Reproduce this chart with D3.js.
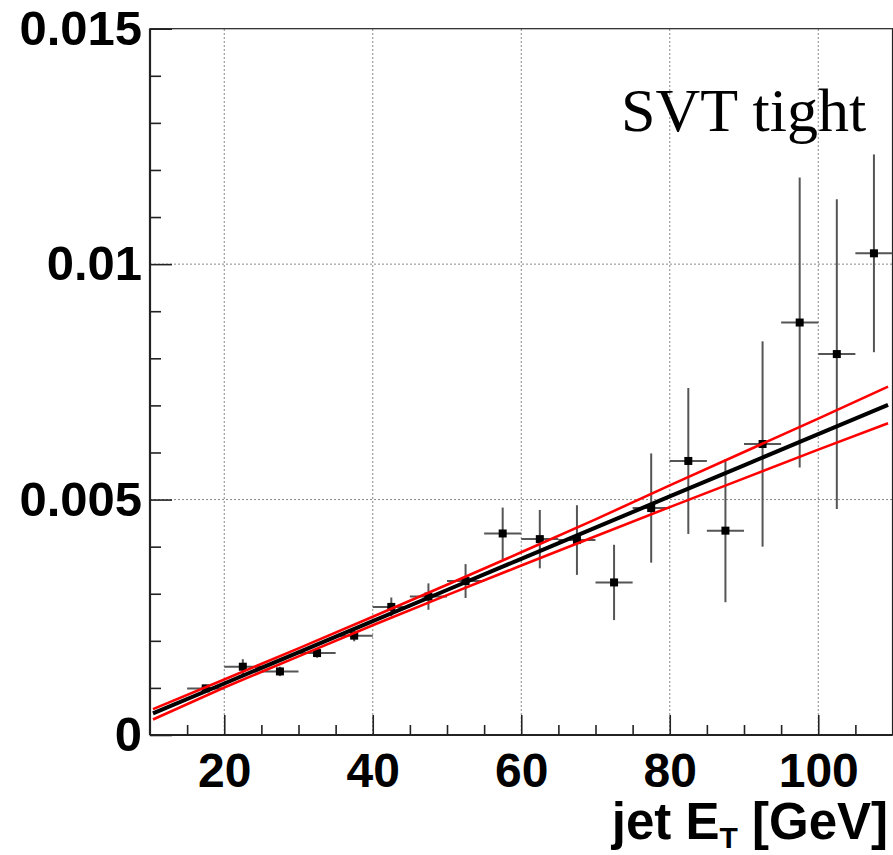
<!DOCTYPE html>
<html>
<head>
<meta charset="utf-8">
<script src="https://cdn.jsdelivr.net/npm/d3@7"></script>
<style>
  html, body { margin: 0; padding: 0; background: #fff; }
  svg { display: block; }
  .tick text { font-family: "Liberation Sans", Arial, Helvetica, sans-serif; font-weight: bold; }
</style>
</head>
<body>
<svg id="chart" width="893" height="855"></svg>
<script>
// Tag rate vs jet E_T, SVT tight
const binCenters = [17.5, 22.5, 27.5, 32.5, 37.5, 42.5, 47.5, 52.5, 57.5, 62.5,
                    67.5, 72.5, 77.5, 82.5, 87.5, 92.5, 97.5, 102.5, 107.5];
const binHalfWidth = 2.5;
const rateValues = [0.00099, 0.00145, 0.00135, 0.00174, 0.00211, 0.00272, 0.00294, 0.00327, 0.00428, 0.00416,
                    0.00414, 0.00324, 0.00482, 0.00582, 0.00434, 0.00618, 0.00876, 0.00809, 0.01023];
const rateErrors = [0.00008, 0.00016, 0.00010, 0.00010, 0.00012, 0.00020, 0.00028, 0.00036, 0.00055, 0.00062,
                    0.00074, 0.00080, 0.00116, 0.00155, 0.00152, 0.00218, 0.00308, 0.00329, 0.00210];

// Linear fit and its error band
const fitX       = [10.4, 20, 30, 40, 50, 60, 70, 80, 90, 100, 109.4];
const fitCentral = [0.000458, 0.001094, 0.001756, 0.002418, 0.00308, 0.003742, 0.004404, 0.005066, 0.005728, 0.00639, 0.007012];
const fitUpper   = [0.00055, 0.00118, 0.00184, 0.00251, 0.00319, 0.00388, 0.00458, 0.0053, 0.00601, 0.00672, 0.0074];
const fitLower   = [0.00033, 0.00101, 0.00167, 0.00233, 0.00297, 0.0036, 0.00422, 0.00484, 0.00545, 0.00606, 0.00662];

// Axis ticks
const xMajorTicks = [20, 40, 60, 80, 100];
const xMajorLabels = ["20", "40", "60", "80", "100"];
const yMajorTicks = [0, 0.005, 0.01, 0.015];
const yMajorLabels = ["0", "0.005", "0.01", "0.015"];
const xDomain = [10, 110];
const yDomain = [0, 0.015];

const svg = d3.select("#chart");
const plotL = 150, plotR = 892.5, plotT = 28.7, plotB = 735;

const x = d3.scaleLinear().domain(xDomain).range([plotL, plotR]);
const y = d3.scaleLinear().domain(yDomain).range([plotB, plotT]);

// Grid
const grid = svg.append("g").attr("stroke", "#888").attr("stroke-width", 1).attr("stroke-dasharray", "2,2");
grid.selectAll("line.vx").data(xMajorTicks).join("line")
  .attr("x1", d => x(d)).attr("x2", d => x(d)).attr("y1", plotB).attr("y2", plotT);
grid.selectAll("line.hy").data(yMajorTicks.filter(v => v > 0 && v < 0.015)).join("line")
  .attr("x1", plotL).attr("x2", plotR).attr("y1", d => y(d)).attr("y2", d => y(d));

// Frame
svg.append("rect").attr("x", plotL).attr("y", plotT).attr("width", plotR - plotL).attr("height", plotB - plotT)
  .attr("fill", "none").attr("stroke", "#222").attr("stroke-width", 1.2);

// Axes: major and minor ticks point inward
const xMinor = d3.range(15, 110, 5).filter(v => !xMajorTicks.includes(v));
const yMinor = d3.range(1, 15).map(i => i * 0.001).filter(v => !yMajorTicks.some(m => Math.abs(m - v) < 1e-9));

const xAxisMajor = svg.append("g").attr("transform", `translate(0,${plotB})`)
  .call(d3.axisBottom(x).tickValues(xMajorTicks).tickSize(-20).tickPadding(18)
    .tickFormat((d, i) => xMajorLabels[i]));
const xAxisMinor = svg.append("g").attr("transform", `translate(0,${plotB})`)
  .call(d3.axisBottom(x).tickValues(xMinor).tickSize(-10).tickFormat(""));
const yAxisMajor = svg.append("g").attr("transform", `translate(${plotL},0)`)
  .call(d3.axisLeft(y).tickValues(yMajorTicks).tickSize(-22).tickPadding(8)
    .tickFormat((d, i) => yMajorLabels[i]));
const yAxisMinor = svg.append("g").attr("transform", `translate(${plotL},0)`)
  .call(d3.axisLeft(y).tickValues(yMinor).tickSize(-11).tickFormat(""));

[xAxisMajor, xAxisMinor, yAxisMajor, yAxisMinor].forEach(g => {
  g.select(".domain").remove();
  g.selectAll(".tick line").attr("stroke", "#222").attr("stroke-width", 1.6);
  g.selectAll(".tick text").attr("fill", "#000").attr("font-size", 49);
});
xAxisMajor.selectAll(".tick text").attr("font-size", 48);

// Axis lines
svg.append("line").attr("x1", plotL).attr("x2", plotR).attr("y1", plotB).attr("y2", plotB)
  .attr("stroke", "#222").attr("stroke-width", 2.2);
svg.append("line").attr("x1", plotL).attr("x2", plotL).attr("y1", plotB).attr("y2", plotT)
  .attr("stroke", "#222").attr("stroke-width", 2.2);

// Data points with errors
const pts = binCenters.map((c, i) => ({ x: c, v: rateValues[i], e: rateErrors[i] }));
const dataG = svg.append("g");
dataG.selectAll("line.ex").data(pts).join("line")
  .attr("x1", d => x(d.x - binHalfWidth)).attr("x2", d => x(d.x + binHalfWidth))
  .attr("y1", d => y(d.v)).attr("y2", d => y(d.v))
  .attr("stroke", "#555").attr("stroke-width", 2);
dataG.selectAll("line.ey").data(pts).join("line")
  .attr("x1", d => x(d.x)).attr("x2", d => x(d.x))
  .attr("y1", d => y(d.v - d.e)).attr("y2", d => y(d.v + d.e))
  .attr("stroke", "#555").attr("stroke-width", 2);
dataG.selectAll("rect").data(pts).join("rect")
  .attr("x", d => x(d.x) - 4).attr("y", d => y(d.v) - 4)
  .attr("width", 8).attr("height", 8).attr("fill", "#000");

// Fit lines
const line = d3.line().x(d => x(d[0])).y(d => y(d[1]));
[fitUpper, fitLower].forEach(vals => {
  svg.append("path").datum(fitX.map((fx, i) => [fx, vals[i]]))
    .attr("d", line).attr("fill", "none").attr("stroke", "#ff0000").attr("stroke-width", 2.6);
});
svg.append("path").datum(fitX.map((fx, i) => [fx, fitCentral[i]]))
  .attr("d", line).attr("fill", "none").attr("stroke", "#000").attr("stroke-width", 4);

// Label
svg.append("text").attr("x", 621).attr("y", 131)
  .attr("font-family", "'Liberation Serif', 'Times New Roman', serif").attr("font-size", 62)
  .attr("fill", "#000").text("SVT tight");

// X axis title
const title = svg.append("text").attr("x", 888).attr("y", 839).attr("text-anchor", "end")
  .attr("font-family", "'Liberation Sans', Arial, Helvetica, sans-serif").attr("font-weight", "bold")
  .attr("font-size", 51).attr("fill", "#000");
title.append("tspan").text("jet E");
title.append("tspan").attr("font-size", 30).attr("dy", 9).text("T");
title.append("tspan").attr("dy", -9).text(" [GeV]");
</script>
</body>
</html>
